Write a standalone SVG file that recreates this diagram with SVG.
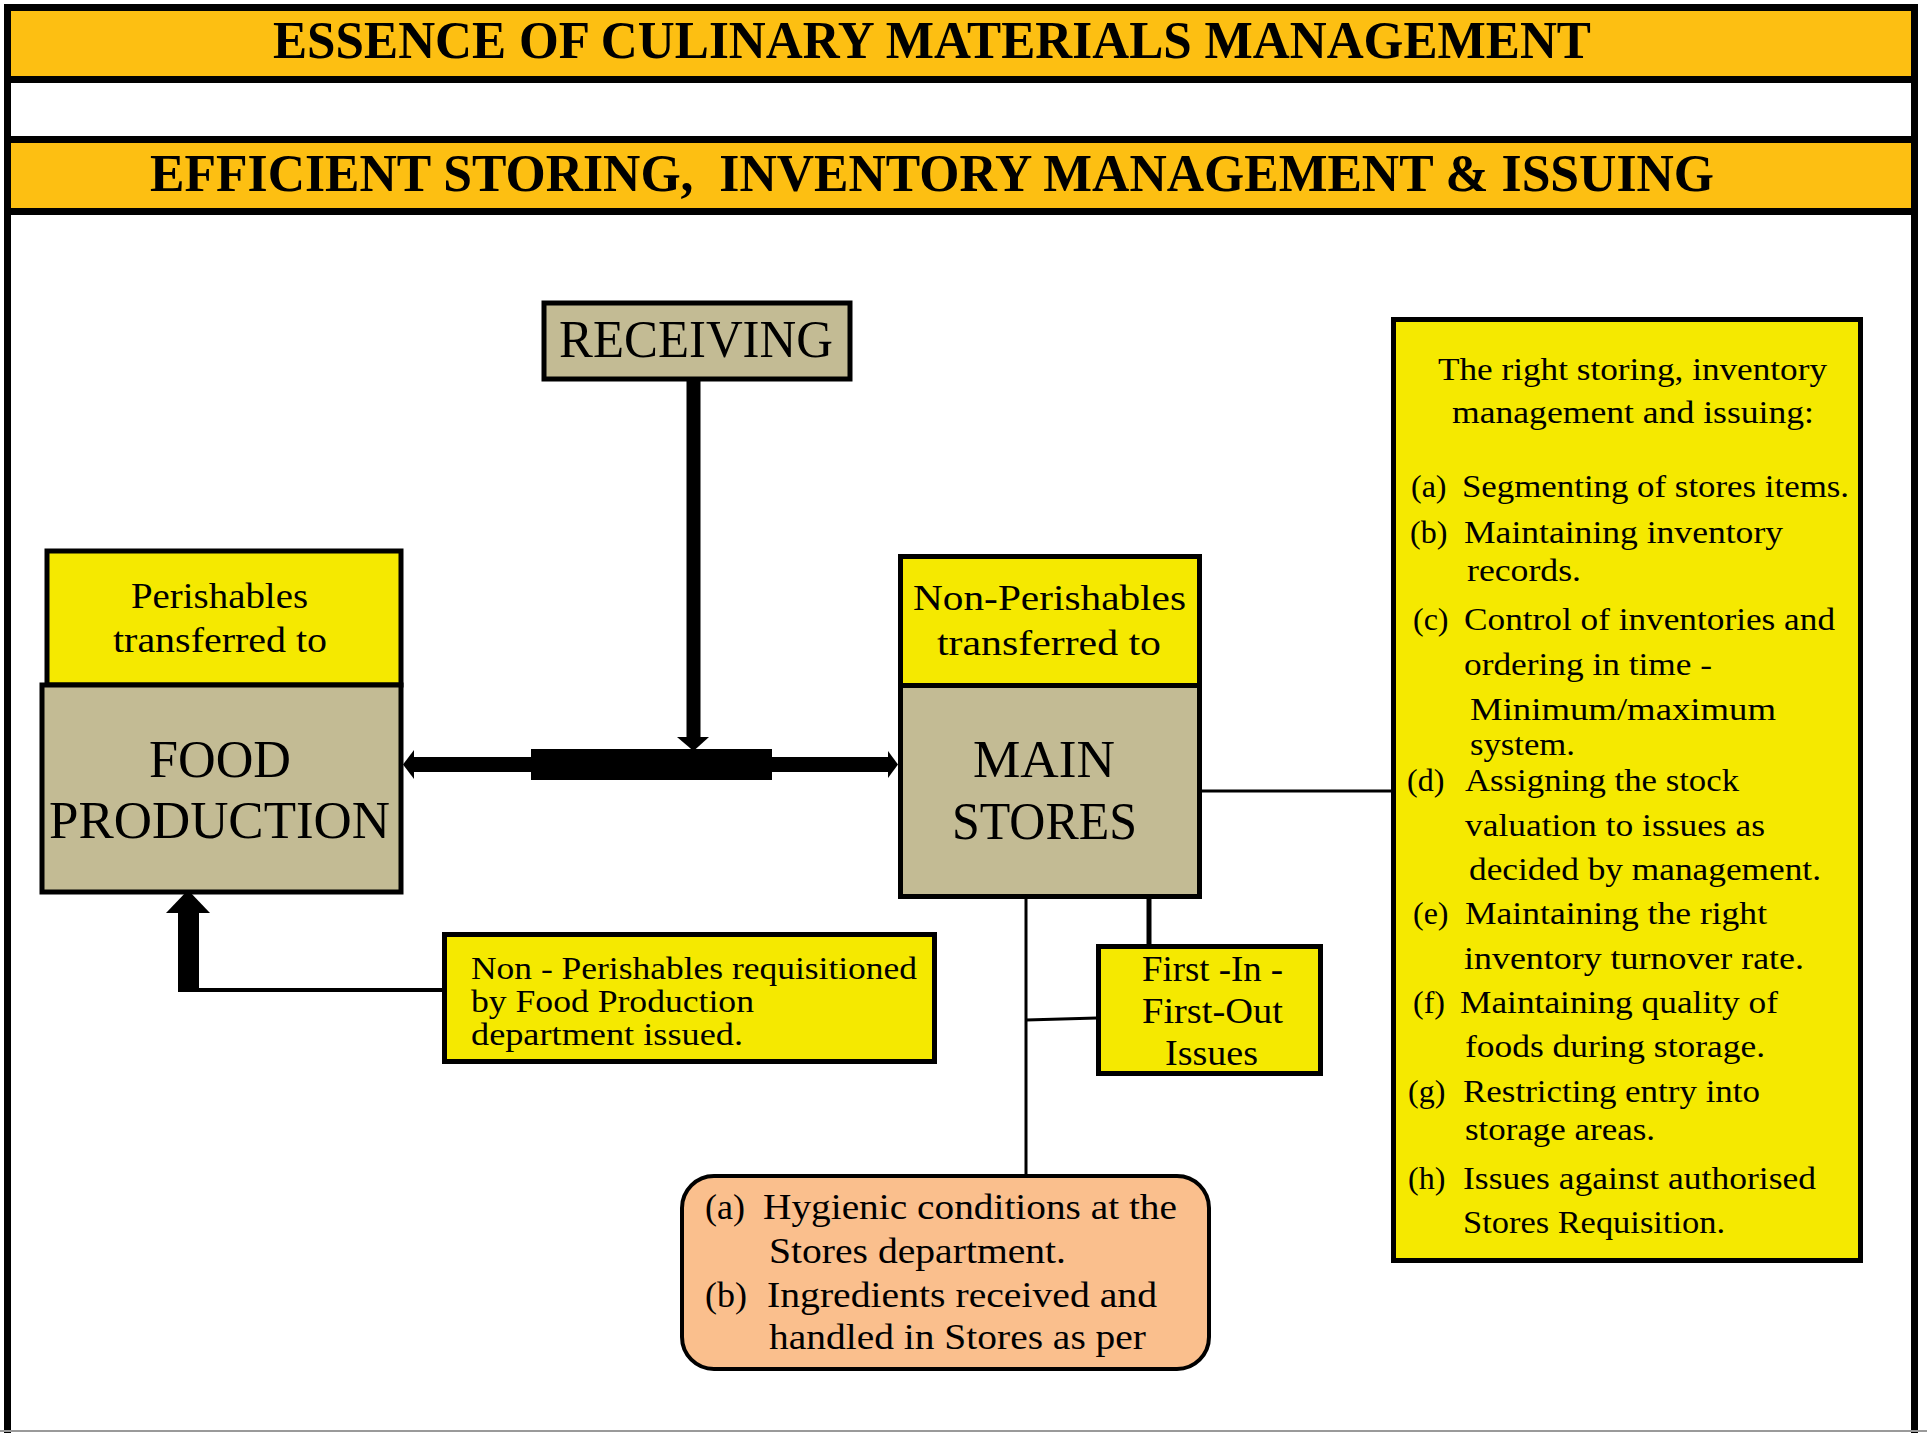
<svg xmlns="http://www.w3.org/2000/svg" width="1927" height="1433" viewBox="0 0 1927 1433">
  <style>
    text { font-family: "Liberation Serif", "DejaVu Serif", serif; fill: #000; }
    .title { font-size: 52px; font-weight: bold; }
    .big { font-size: 52px; }
    .mid { font-size: 36px; }
    .body { font-size: 32px; }
    .note { font-size: 31px; }
    .band { fill: #FDBF12; }
    .rule { fill: #000; }
    .tan { fill: #C3BB94; stroke: #000; stroke-width: 5; }
    .yel { fill: #F5E900; stroke: #000; stroke-width: 5; }
    .peach { fill: #FABF8D; stroke: #000; stroke-width: 4; }
    .thin { stroke: #000; stroke-width: 3; fill: none; }
  </style>

  <!-- page background and frame -->
  <rect x="0" y="0" width="1927" height="1433" fill="#fff"/>
  <g id="frame">
    <rect class="band" x="11" y="11" width="1900" height="65"/>
    <rect class="band" x="11" y="143" width="1900" height="65"/>
    <rect class="rule" x="4" y="4" width="1914" height="7"/>
    <rect class="rule" x="4" y="76" width="1914" height="7"/>
    <rect class="rule" x="4" y="136" width="1914" height="7"/>
    <rect class="rule" x="4" y="208" width="1914" height="7"/>
    <rect class="rule" x="4" y="4" width="7" height="1429"/>
    <rect class="rule" x="1911" y="4" width="7" height="1429"/>
    <line x1="0" y1="1431" x2="1927" y2="1431" stroke="#9a9a9a" stroke-width="2"/>
    <text class="title" x="273" y="58" textLength="1318" lengthAdjust="spacingAndGlyphs">ESSENCE OF CULINARY MATERIALS MANAGEMENT</text>
    <text class="title" x="150" y="191" textLength="1564" lengthAdjust="spacingAndGlyphs" xml:space="preserve">EFFICIENT STORING,  INVENTORY MANAGEMENT &amp; ISSUING</text>
  </g>

  <!-- connectors -->
  <g id="connectors">
    <!-- receiving down to the split bar -->
    <rect x="686.5" y="381" width="14" height="357" fill="#000"/>
    <polygon points="677,737 709,737 693.5,751" fill="#000"/>
    <!-- split bar -->
    <rect x="531" y="749" width="241" height="31" fill="#000"/>
    <!-- to food production -->
    <rect x="412" y="757" width="120" height="15" fill="#000"/>
    <polygon points="403,764.5 414,750 414,779" fill="#000"/>
    <!-- to main stores -->
    <rect x="771" y="757" width="119" height="15" fill="#000"/>
    <polygon points="898,764.5 888,751 888,778" fill="#000"/>
    <!-- main stores to the right-hand list -->
    <line class="thin" x1="1202" y1="791" x2="1392" y2="791"/>
    <!-- main stores down to hygiene box -->
    <line class="thin" x1="1026" y1="898" x2="1026" y2="1175"/>
    <!-- main stores down to FIFO -->
    <line x1="1149" y1="898" x2="1149" y2="945" stroke="#000" stroke-width="5"/>
    <!-- branch to FIFO -->
    <line class="thin" x1="1026" y1="1020" x2="1097" y2="1018"/>
    <!-- requisition back up to food production -->
    <line x1="188" y1="990" x2="443" y2="990" stroke="#000" stroke-width="4"/>
    <rect x="178" y="910" width="21" height="82" fill="#000"/>
    <polygon points="166,913 210,913 188,890" fill="#000"/>
  </g>

  <g id="receiving">
    <rect class="tan" x="544" y="303" width="306" height="76" stroke-width="4"/>
    <text class="big" x="559" y="357" textLength="274" lengthAdjust="spacingAndGlyphs">RECEIVING</text>
  </g>

  <g id="perishables">
    <rect class="yel" x="47" y="551" width="354" height="134"/>
    <text class="mid" x="131" y="608" textLength="177" lengthAdjust="spacingAndGlyphs">Perishables</text>
    <text class="mid" x="113" y="652" textLength="214" lengthAdjust="spacingAndGlyphs">transferred to</text>
  </g>

  <g id="food-production">
    <rect class="tan" x="42" y="685" width="359" height="207"/>
    <text class="big" x="149" y="777" textLength="142" lengthAdjust="spacingAndGlyphs">FOOD</text>
    <text class="big" x="49" y="838" textLength="341" lengthAdjust="spacingAndGlyphs">PRODUCTION</text>
  </g>

  <g id="non-perishables">
    <rect class="yel" x="900.5" y="556.5" width="299" height="129"/>
    <text class="mid" x="913" y="610" textLength="273" lengthAdjust="spacingAndGlyphs">Non-Perishables</text>
    <text class="mid" x="937" y="655" textLength="224" lengthAdjust="spacingAndGlyphs">transferred to</text>
  </g>

  <g id="main-stores">
    <rect class="tan" x="900.5" y="685.5" width="299" height="211"/>
    <text class="big" x="973" y="777" textLength="142" lengthAdjust="spacingAndGlyphs">MAIN</text>
    <text class="big" x="952" y="839" textLength="185" lengthAdjust="spacingAndGlyphs">STORES</text>
  </g>

  <g id="requisition-note">
    <rect class="yel" x="444.5" y="934.5" width="490" height="127"/>
    <text class="note" x="471" y="979" textLength="446" lengthAdjust="spacingAndGlyphs">Non - Perishables requisitioned</text>
    <text class="note" x="471" y="1012" textLength="283" lengthAdjust="spacingAndGlyphs">by Food Production</text>
    <text class="note" x="471" y="1045" textLength="272" lengthAdjust="spacingAndGlyphs">department issued.</text>
  </g>

  <g id="fifo">
    <rect class="yel" x="1098.5" y="946.5" width="222" height="127"/>
    <text class="mid" x="1142" y="981" textLength="141" lengthAdjust="spacingAndGlyphs">First -In -</text>
    <text class="mid" x="1142" y="1023" textLength="141" lengthAdjust="spacingAndGlyphs">First-Out</text>
    <text class="mid" x="1165" y="1065" textLength="93" lengthAdjust="spacingAndGlyphs">Issues</text>
  </g>

  <g id="hygiene">
    <rect class="peach" x="682" y="1176" width="527" height="193" rx="32" ry="32"/>
    <text class="mid" x="705" y="1219">(a)</text>
    <text class="mid" x="763" y="1219" textLength="414" lengthAdjust="spacingAndGlyphs">Hygienic conditions at the</text>
    <text class="mid" x="769" y="1263" textLength="297" lengthAdjust="spacingAndGlyphs">Stores department.</text>
    <text class="mid" x="705" y="1307">(b)</text>
    <text class="mid" x="767" y="1307" textLength="390" lengthAdjust="spacingAndGlyphs">Ingredients received and</text>
    <text class="mid" x="769" y="1349" textLength="377" lengthAdjust="spacingAndGlyphs">handled in Stores as per</text>
  </g>

  <g id="storing-points">
    <rect class="yel" x="1393.5" y="319.5" width="467" height="941"/>
    <text class="body" x="1438" y="380" textLength="389" lengthAdjust="spacingAndGlyphs">The right storing, inventory</text>
    <text class="body" x="1452" y="423" textLength="362" lengthAdjust="spacingAndGlyphs">management and issuing:</text>

    <text class="body" x="1411" y="497">(a)</text>
    <text class="body" x="1462" y="497" textLength="387" lengthAdjust="spacingAndGlyphs">Segmenting of stores items.</text>

    <text class="body" x="1410" y="543">(b)</text>
    <text class="body" x="1464" y="543" textLength="319" lengthAdjust="spacingAndGlyphs">Maintaining inventory</text>
    <text class="body" x="1467" y="581" textLength="114" lengthAdjust="spacingAndGlyphs">records.</text>

    <text class="body" x="1413" y="630">(c)</text>
    <text class="body" x="1464" y="630" textLength="371" lengthAdjust="spacingAndGlyphs">Control of inventories and</text>
    <text class="body" x="1464" y="675" textLength="248" lengthAdjust="spacingAndGlyphs">ordering in time -</text>
    <text class="body" x="1470" y="720" textLength="306" lengthAdjust="spacingAndGlyphs">Minimum/maximum</text>
    <text class="body" x="1470" y="755" textLength="105" lengthAdjust="spacingAndGlyphs">system.</text>

    <text class="body" x="1407" y="791">(d)</text>
    <text class="body" x="1465" y="791" textLength="274" lengthAdjust="spacingAndGlyphs">Assigning the stock</text>
    <text class="body" x="1465" y="836" textLength="300" lengthAdjust="spacingAndGlyphs">valuation to issues as</text>
    <text class="body" x="1469" y="880" textLength="352" lengthAdjust="spacingAndGlyphs">decided by management.</text>

    <text class="body" x="1413" y="924">(e)</text>
    <text class="body" x="1465" y="924" textLength="302" lengthAdjust="spacingAndGlyphs">Maintaining the right</text>
    <text class="body" x="1464" y="969" textLength="340" lengthAdjust="spacingAndGlyphs">inventory turnover rate.</text>

    <text class="body" x="1413" y="1013">(f)</text>
    <text class="body" x="1460" y="1013" textLength="318" lengthAdjust="spacingAndGlyphs">Maintaining quality of</text>
    <text class="body" x="1465" y="1057" textLength="300" lengthAdjust="spacingAndGlyphs">foods during storage.</text>

    <text class="body" x="1408" y="1102">(g)</text>
    <text class="body" x="1463" y="1102" textLength="297" lengthAdjust="spacingAndGlyphs">Restricting entry into</text>
    <text class="body" x="1465" y="1140" textLength="190" lengthAdjust="spacingAndGlyphs">storage areas.</text>

    <text class="body" x="1408" y="1189">(h)</text>
    <text class="body" x="1463" y="1189" textLength="353" lengthAdjust="spacingAndGlyphs">Issues against authorised</text>
    <text class="body" x="1463" y="1233" textLength="262" lengthAdjust="spacingAndGlyphs">Stores Requisition.</text>
  </g>
</svg>
